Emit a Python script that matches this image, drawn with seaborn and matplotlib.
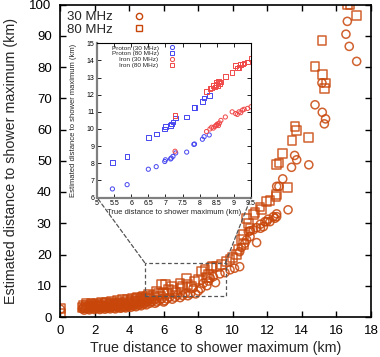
import matplotlib
matplotlib.use("Agg")
import matplotlib.pyplot as plt
import seaborn as sns
from matplotlib.lines import Line2D
from matplotlib.patches import Rectangle, ConnectionPatch

sns.set_theme(style="ticks")
plt.rcParams['font.family'] = ['Liberation Sans', 'DejaVu Sans']

# ---------------- main panel data (all showers) ----------------
c30_x = [0.02, 1.30, 1.35, 1.45, 1.55, 1.65, 1.75, 1.85, 1.95, 2.05, 2.15, 2.25, 2.35, 2.45, 2.55,
         2.65, 2.75, 2.85, 2.95, 3.05, 3.15, 3.25, 3.35, 3.45, 3.55, 3.65, 3.75, 3.85, 3.95, 4.05,
         4.15, 4.25, 4.35, 4.45, 4.55, 4.65, 4.75, 4.85, 4.95, 5.05, 5.20, 5.30, 5.45, 5.60, 5.75,
         5.90, 6.05, 6.20, 6.35, 6.50, 6.65, 6.80, 6.95, 7.10, 7.25, 7.40, 7.55, 7.70, 7.85, 8.00,
         8.15, 8.29, 8.50, 8.60, 8.70, 8.87, 9.00, 9.26, 9.55, 9.84, 10.1, 10.4, 10.4, 10.5, 10.7,
         10.8, 10.9, 11.0, 11.0, 11.19, 11.38, 11.38, 11.6, 11.6, 11.77, 11.86, 11.96, 12.05, 12.15,
         12.35, 12.44, 12.54, 12.54, 12.54, 12.67, 12.89, 13.2, 13.4, 13.58, 13.7, 14.4, 14.76,
         15.16, 15.18, 15.3, 15.37, 16.55, 16.63, 16.74, 17.17,
         1.40, 1.70, 2.00, 2.30, 2.60, 2.90, 3.20, 3.50, 3.80, 4.10, 4.40, 4.70, 5.00, 5.50, 6.00]
c30_y = [2.5, 2.6, 3.0, 2.7, 3.1, 2.6, 2.9, 3.2, 2.7, 3.0, 2.8, 3.3, 2.7, 3.1, 2.9,
         3.4, 2.8, 3.2, 3.0, 3.5, 2.9, 3.3, 3.1, 3.7, 3.0, 3.4, 3.2, 3.9, 3.3, 3.6,
         4.1, 3.5, 3.9, 4.4, 3.8, 4.2, 4.7, 4.1, 4.5, 5.0, 4.4, 4.9, 5.4, 4.8, 5.3,
         5.9, 5.2, 5.8, 6.4, 5.7, 6.3, 7.0, 6.2, 6.9, 7.5, 6.8, 7.4, 9.2, 7.4, 8.3,
         9.1, 10.8, 10.0, 11.5, 12.4, 12.9, 11.0, 13.8, 14.2, 15.1, 15.6, 16.1, 20.9, 22.3, 23.6,
         24.7, 27.3, 25.7, 27.6, 27.9, 28.6, 23.8, 29.7, 28.4, 28.9, 30.5, 30.5, 31.3, 30.5,
         32.1, 31.6, 33.0, 32.1, 41.8, 41.8, 44.2, 34.3, 47.9, 51.7, 50.3, 48.7, 67.9,
         74.9, 65.5, 61.8, 63.4, 90.5, 94.6, 86.6, 81.8,
         2.2, 2.3, 2.4, 2.4, 2.5, 2.6, 2.6, 2.8, 2.9, 3.1, 3.3, 3.6, 3.9, 4.4, 4.8]

s80_x = [0.02, 0.02, 1.30, 1.35, 1.45, 1.55, 1.65, 1.75, 1.85, 1.95, 2.05, 2.15, 2.25, 2.35, 2.45,
         2.55, 2.65, 2.75, 2.85, 2.95, 3.05, 3.15, 3.25, 3.35, 3.45, 3.55, 3.65, 3.75, 3.85, 3.95,
         4.05, 4.15, 4.25, 4.35, 4.45, 4.55, 4.65, 4.75, 4.85, 4.95, 5.05, 5.20, 5.40, 5.50, 5.70,
         5.80, 5.88, 6.00, 6.10, 6.20, 6.46, 6.50, 6.70, 6.94, 7.00, 7.10, 7.33, 7.40, 7.60, 7.80,
         8.00, 8.20, 8.39, 8.50, 8.60, 8.78, 8.80, 9.07, 9.36, 9.65, 9.84, 10.0, 10.2, 10.3, 10.5,
         10.6, 10.6, 10.8, 10.9, 11.0, 11.19, 11.28, 11.57, 11.67, 11.96, 12.15, 12.5, 12.54, 12.54,
         12.67, 12.89, 13.18, 13.43, 13.6, 13.7, 14.4, 14.76, 15.16, 15.18, 15.3, 15.39, 16.63,
         16.78, 17.17,
         1.50, 1.80, 2.10, 2.40, 2.70, 3.00, 3.30, 3.60, 3.90, 4.20, 4.50, 4.80, 5.10, 5.60, 6.30]
s80_y = [2.8, 1.3, 3.1, 3.6, 3.2, 3.8, 3.1, 3.5, 4.0, 3.3, 3.7, 3.4, 4.1, 3.3, 3.8,
         3.5, 4.3, 3.5, 4.0, 3.7, 4.5, 3.6, 4.2, 3.9, 4.8, 3.8, 4.4, 4.0, 5.1, 4.2,
         4.7, 5.4, 4.5, 5.1, 5.8, 4.9, 5.5, 6.2, 5.3, 5.9, 6.6, 5.8, 7.0, 6.2, 7.5,
         6.7, 10.5, 8.0, 10.3, 7.4, 9.7, 8.4, 7.9, 10.8, 9.0, 9.9, 12.4, 10.4, 9.8, 11.3,
         11.9, 14.5, 15.1, 12.7, 13.5, 15.9, 16.3, 16.1, 16.7, 17.7, 18.5, 19.1, 19.9, 21.5, 24.7,
         23.1, 26.3, 31.6, 30.0, 28.4, 32.7, 33.4, 35.2, 34.5, 37.0, 37.3, 38.6, 39.1, 48.9,
         49.3, 52.3, 41.4, 56.5, 61.0, 59.7, 57.5, 80.2, 88.6, 77.5, 73.0, 74.9, 100.0,
         100.0, 96.6,
         4.2, 4.4, 4.5, 4.7, 4.8, 5.0, 5.2, 5.5, 5.7, 6.0, 6.3, 6.6, 7.1, 8.2, 8.8]

# ---------------- inset data ----------------
proton_x = [5.45, 5.88, 6.50, 6.73, 6.98, 7.00, 7.15, 7.17, 7.22, 7.30, 7.62, 7.83, 7.85, 8.08, 8.13, 8.28]
proton30_y = [6.50, 6.75, 7.65, 7.80, 8.10, 8.20, 8.25, 8.30, 8.40, 8.60, 8.65, 9.10, 9.12, 9.40, 9.55, 9.65]
proton80_y = [8.05, 8.40, 9.50, 9.70, 10.00, 10.15, 10.20, 10.30, 10.40, 10.65, 10.70, 11.25, 11.25, 11.60, 11.80, 11.95]

iron_x = [7.28, 8.20, 8.30, 8.35, 8.40, 8.45, 8.48, 8.50, 8.53, 8.55, 8.58, 8.62, 8.75, 8.95,
          9.05, 9.10, 9.15, 9.20, 9.25, 9.30, 9.40, 9.50]
iron30_y = [8.70, 9.85, 10.00, 10.10, 10.05, 10.15, 10.20, 10.25, 10.30, 10.20, 10.35, 10.50, 10.70, 11.00,
            10.90, 10.85, 11.00, 10.95, 11.10, 11.15, 11.20, 11.30]
iron80_y = [10.80, 12.20, 12.35, 12.40, 12.55, 12.45, 12.60, 12.70, 12.55, 12.80, 12.65, 12.75, 13.05, 13.30,
            13.70, 13.55, 13.60, 13.75, 13.80, 13.85, 13.90, 14.10]

main_labels = ["30 MHz", "80 MHz"]
inset_labels = ["Proton (30 MHz)", "Proton (80 MHz)", "Iron (30 MHz)", "Iron (80 MHz)"]

ORANGE = "#c8460a"
BLUE = "#4646f0"
RED = "#f04848"


def hollow(axis, x, y, marker, color, s, lw, alpha=1.0):
    sns.scatterplot(x=x, y=y, ax=axis, marker=marker, s=s, legend=False, color=color)
    coll = axis.collections[-1]
    coll.set_facecolor("none")
    coll.set_edgecolor(color)
    coll.set_linewidth(lw)
    coll.set_alpha(alpha)


fig = plt.figure(figsize=(3.8, 3.57), dpi=100)
ax = fig.add_axes([60 / 380, 1 - 317 / 357, 311 / 380, 312.5 / 357])

hollow(ax, c30_x, c30_y, "o", ORANGE, 34, 1.1, 0.85)
hollow(ax, s80_x, s80_y, "s", ORANGE, 40, 1.1, 0.85)

ax.set_xlim(0, 18)
ax.set_ylim(0, 100)
ax.set_xticks(range(0, 19, 2))
ax.set_yticks(range(0, 101, 10))
ax.tick_params(direction="in", top=True, right=True, length=4, width=1, labelsize=9.5, pad=6, colors="black")
for sp in ax.spines.values():
    sp.set_color("black")
    sp.set_linewidth(1.2)
ax.set_xlabel("True distance to shower maximum (km)", fontsize=10.3)
ax.set_ylabel("Estimated distance to shower maximum (km)", fontsize=10.3)
ax.xaxis.set_label_coords(0.5, -0.078)
ax.yaxis.set_label_coords(-0.135, 0.5)

h_main = [Line2D([], [], marker="o", ls="none", mfc="none", mec=ORANGE, ms=4.5, mew=1),
          Line2D([], [], marker="s", ls="none", mfc="none", mec=ORANGE, ms=4.5, mew=1)]
ax.legend(h_main, main_labels, loc="upper left", bbox_to_anchor=(0.0, 1.0), frameon=False,
          markerfirst=False, fontsize=9.5, handlelength=1, handletextpad=1.5,
          labelspacing=0.0, borderaxespad=0.2, borderpad=0.3)

# zoom box
bx0, bx1, by0, by1 = 4.9, 9.58, 6.6, 17.4
ax.add_patch(Rectangle((bx0, by0), bx1 - bx0, by1 - by0, fill=False, ec="#555555",
                       lw=0.9, ls=(0, (3, 2)), zorder=5))

# inset
axins = fig.add_axes([97 / 380, 1 - 197.5 / 357, 154 / 380, 154.2 / 357])
axins.set_facecolor("white")
hollow(axins, proton_x, proton30_y, "o", BLUE, 9, 0.7)
hollow(axins, proton_x, proton80_y, "s", BLUE, 11, 0.7)
hollow(axins, iron_x, iron30_y, "o", RED, 9, 0.7)
hollow(axins, iron_x, iron80_y, "s", RED, 11, 0.7)
axins.set_xlim(5, 9.5)
axins.set_ylim(6, 15)
axins.set_xticks([5, 5.5, 6, 6.5, 7, 7.5, 8, 8.5, 9, 9.5])
axins.set_xticklabels(["5", "5.5", "6", "6.5", "7", "7.5", "8", "8.5", "9", "9.5"])
axins.set_yticks(range(6, 16))
axins.tick_params(direction="in", top=True, right=True, length=3, width=0.6, labelsize=5, pad=2, colors="black")
axins.spines["left"].set_color("#808080")
axins.spines["bottom"].set_color("#808080")
axins.spines["left"].set_linewidth(1.6)
axins.spines["bottom"].set_linewidth(1.6)
axins.spines["top"].set_color("black")
axins.spines["right"].set_color("black")
axins.spines["top"].set_linewidth(0.8)
axins.spines["right"].set_linewidth(0.8)
axins.set_xlabel("True distance to shower maximum (km)", fontsize=5.5)
axins.set_ylabel("Estimated distance to shower maximum (km)", fontsize=5.5)
axins.xaxis.set_label_coords(0.5, -0.075)
axins.yaxis.set_label_coords(-0.13, 0.5)

h_ins = [Line2D([], [], marker="o", ls="none", mfc="none", mec=BLUE, ms=3, mew=0.7),
         Line2D([], [], marker="s", ls="none", mfc="none", mec=BLUE, ms=3, mew=0.7),
         Line2D([], [], marker="o", ls="none", mfc="none", mec=RED, ms=3, mew=0.7),
         Line2D([], [], marker="s", ls="none", mfc="none", mec=RED, ms=3, mew=0.7)]
axins.legend(h_ins, inset_labels, loc="upper right", bbox_to_anchor=(0.52, 1.0), frameon=False,
             markerfirst=False, fontsize=4.6, handlelength=1, handletextpad=1.6,
             labelspacing=0.05, borderaxespad=0.0, borderpad=0.3)

# connector lines
for (xa, xb) in [(bx0, 0.0), (bx1, 1.0)]:
    con = ConnectionPatch(xyA=(xa, by1), coordsA=ax.transData, xyB=(xb, 0.0), coordsB=axins.transAxes,
                          color="#555555", lw=0.9, ls=(0, (3, 2)))
    fig.add_artist(con)

fig.savefig("out.png", dpi=100)
